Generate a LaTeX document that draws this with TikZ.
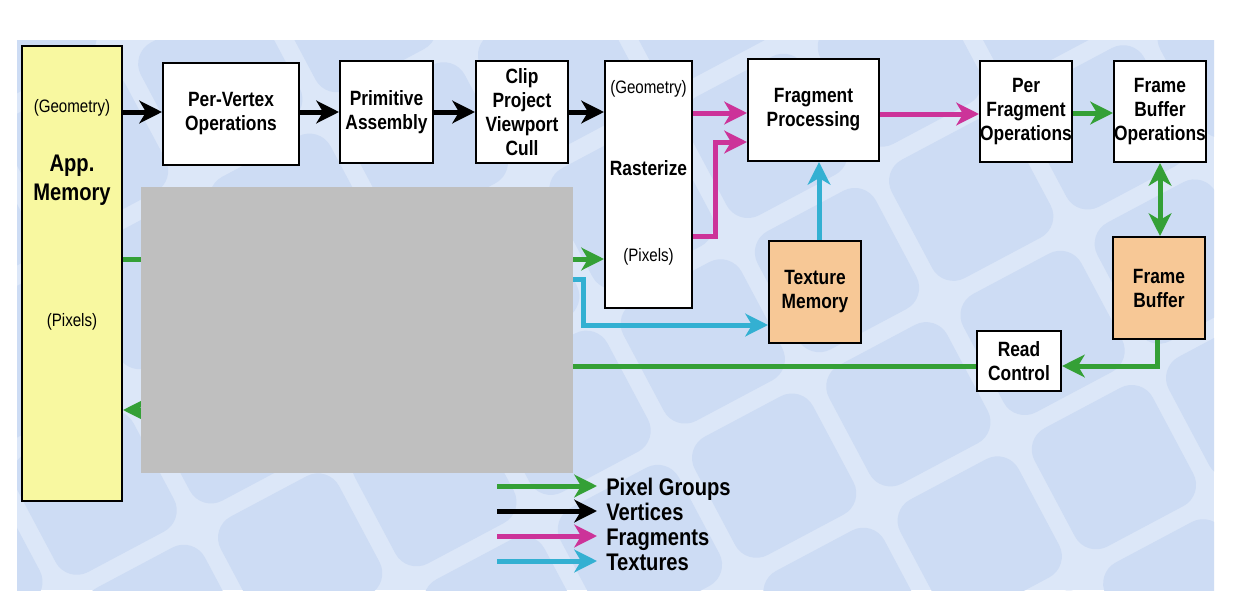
\documentclass[tikz,border=0pt]{standalone}
\usepackage{fontspec}
\setmainfont{Liberation Sans}[FakeStretch=0.84]
\usetikzlibrary{arrows.meta}
\definecolor{bgtile}{HTML}{CDDCF4}
\definecolor{bggap}{HTML}{DCE7F8}
\definecolor{cgreen}{HTML}{34A036}
\definecolor{cmag}{HTML}{CC3399}
\definecolor{ccyan}{HTML}{33B0D2}
\definecolor{cyellow}{HTML}{F8F8A0}
\definecolor{corange}{HTML}{F7C896}
\definecolor{cgray}{HTML}{BFBFBF}
\tikzset{
  >={Stealth[length=17pt,width=17pt,inset=5pt]},
  box/.style={draw, line width=1.5pt, fill=white, inner sep=0pt, align=center,
    font=\bfseries\fontsize{15.5}{18}\selectfont},
  membox/.style={box, fill=corange},
  small/.style={inner sep=0pt, font=\fontsize{13.5}{16}\selectfont},
  conn/.style={line width=3.75pt, ->},
  blk/.style={conn, draw=black},
  grn/.style={conn, draw=cgreen},
  mag/.style={conn, draw=cmag},
  cyn/.style={conn, draw=ccyan},
  legtext/.style={anchor=base west, inner sep=0pt, text height=12pt, text depth=3pt,
    font=\bfseries\fontsize{18}{20}\selectfont},
}
\begin{document}
\begin{tikzpicture}[x=0.75pt,y=-0.75pt]
\useasboundingbox (0,0) rectangle (1234,603);
\fill[white] (0,0) rectangle (1234,603);
% background
\fill[bggap] (17,40) rectangle (1214,590);
\begin{scope}
  \clip (17,40) rectangle (1214,590);
  \begin{scope}[shift={(600,310)}, rotate=28]
    \foreach \i in {-7,...,6}{
      \foreach \j in {-7,...,6}{
        \fill[bgtile, rounded corners=18pt] (\i*152+9,\j*152+9) rectangle ++(134,134);
      }
    }
  \end{scope}
\end{scope}

% nodes
\node[box, fill=cyellow, minimum width=75pt, minimum height=341.25pt] (app) at (72,273.5) {};
\node[small] (appgeo) at (72,108) {(Geometry)};
\node[inner sep=0pt, align=center, font=\bfseries\fontsize{18}{21.75}\selectfont] (applbl) at (72,180) {App.\\Memory};
\node[small] (apppix) at (72,322) {(Pixels)};

\node[box, minimum width=102pt, minimum height=76.5pt] (pv) at (231,114) {Per-Vertex\\Operations};
\node[box, minimum width=69.75pt, minimum height=76.5pt] (pa) at (386.5,112) {Primitive\\Assembly};
\node[box, minimum width=69pt, minimum height=76.5pt] (clip) at (522,112) {Clip\\Project\\Viewport\\Cull};
\node[box, minimum width=65.25pt, minimum height=185.25pt] (rast) at (648.5,184.5) {};
\node[small] (rastgeo) at (648.5,89) {(Geometry)};
\node[inner sep=0pt, font=\bfseries\fontsize{15.5}{18}\selectfont] (rastlbl) at (648.5,168) {Rasterize};
\node[small] (rastpix) at (648.5,257) {(Pixels)};
\node[box, minimum width=98.25pt, minimum height=76.5pt] (fp) at (813.5,110) {Fragment\\Processing};
\node[box, minimum width=69pt, minimum height=75.75pt] (pfo) at (1026,111.5) {Per\\Fragment\\Operations};
\node[box, minimum width=69pt, minimum height=75.75pt] (fbo) at (1160,111.5) {Frame\\Buffer\\Operations};
\node[membox, minimum width=69pt, minimum height=76.5pt] (tm) at (815,292) {Texture\\Memory};
\node[membox, minimum width=69pt, minimum height=76.5pt] (fb) at (1159,288) {Frame\\Buffer};
\node[box, minimum width=63pt, minimum height=45pt] (rc) at (1019,361) {Read\\Control};

% vertex arrows
\draw[blk] (app.east |- 0,112) -- (pv.west |- 0,112);
\draw[blk] (pv.east |- 0,112) -- (pa.west |- 0,112);
\draw[blk] (pa.east |- 0,112) -- (clip.west |- 0,112);
\draw[blk] (clip.east |- 0,112) -- (rast.west |- 0,112);
% fragment arrows
\draw[mag] (rast.east |- 0,113) -- (fp.west |- 0,113);
\draw[mag] (rast.east |- 0,236) -- (715,236) -- (715,142) -- (fp.west |- 0,142);
\draw[mag] (fp.east |- 0,114) -- (pfo.west |- 0,114);
% pixel arrows
\draw[grn] (pfo.east |- 0,113) -- (fbo.west |- 0,113);
\draw[grn, <->] (fbo.south) -- (fbo.south |- fb.north);
\draw[grn] (1157,0 |- fb.south) -- (1157,366) -- (rc.east |- 0,366);
\draw[grn] (rc.west |- 0,366) -- (350,366) -- (350,410) -- (app.east |- 0,410);
\draw[grn] (app.east |- 0,259) -- (rast.west |- 0,259);
% texture arrows
\draw[cyn] (450,279) -- (583,279) -- (583,325) -- (tm.west |- 0,325);
\draw[cyn] (tm.north -| 819,0) -- (fp.south -| 819,0);

% redaction box
\fill[cgray] (141,187) rectangle (573,473);

% legend
\coordinate (l1a) at (497,486); \coordinate (l1b) at (597,486);
\coordinate (l2a) at (497,511); \coordinate (l2b) at (597,511);
\coordinate (l3a) at (497,536); \coordinate (l3b) at (597,536);
\coordinate (l4a) at (497,561); \coordinate (l4b) at (597,561);
\draw[grn] (l1a) -- (l1b);
\draw[blk] (l2a) -- (l2b);
\draw[mag] (l3a) -- (l3b);
\draw[cyn] (l4a) -- (l4b);
\node[legtext] (lt1) at (606,495) {Pixel Groups};
\node[legtext] (lt2) at (606,520) {Vertices};
\node[legtext] (lt3) at (606,545) {Fragments};
\node[legtext] (lt4) at (606,570) {Textures};
\end{tikzpicture}
\end{document}
